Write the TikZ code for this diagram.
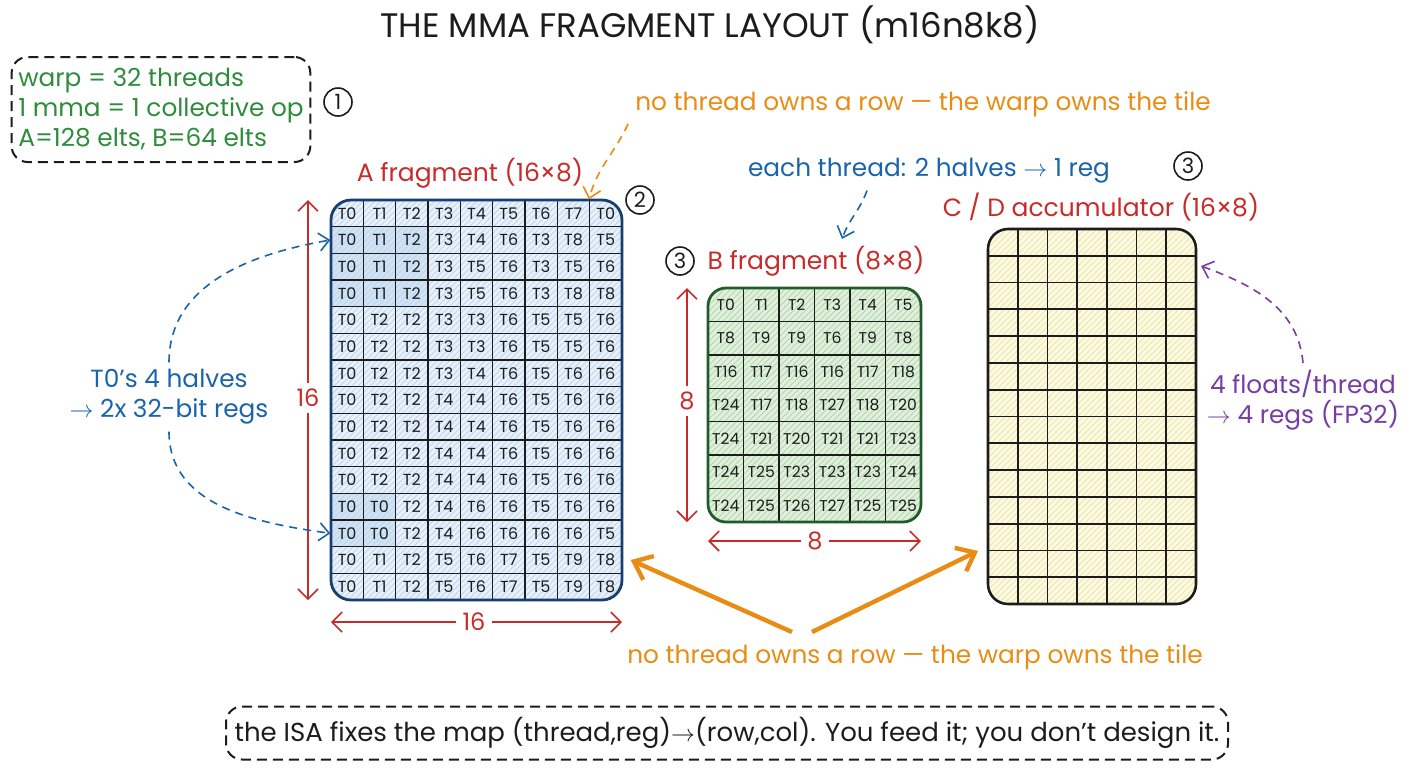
\documentclass[tikz,border=0pt]{standalone}
\usepackage{fontspec}
\setmainfont{Poppins}
\usetikzlibrary{arrows.meta,patterns,calc}
\definecolor{MmaInk}{RGB}{28,28,28}
\definecolor{MmaRed}{RGB}{201,42,42}
\definecolor{MmaBlue}{RGB}{25,100,170}
\definecolor{MmaGreen}{RGB}{47,140,60}
\definecolor{MmaOrange}{RGB}{232,140,20}
\definecolor{MmaPurple}{RGB}{120,60,165}
\definecolor{MmaNavy}{RGB}{22,62,110}
\definecolor{MmaForest}{RGB}{32,92,42}
\definecolor{MmaALight}{RGB}{232,241,250}
\definecolor{MmaAHatch}{RGB}{190,214,238}
\definecolor{MmaAHigh}{RGB}{208,227,245}
\definecolor{MmaBLight}{RGB}{224,240,220}
\definecolor{MmaBHatch}{RGB}{180,215,176}
\definecolor{MmaCLight}{RGB}{252,250,226}
\definecolor{MmaCHatch}{RGB}{238,230,170}
\tikzset{
  mma/title/.style={font=\fontsize{17}{19}\selectfont, text=MmaInk},
  mma/note/.style={font=\fontsize{12.4}{15}\selectfont, align=center},
  mma/head/.style={font=\fontsize{12.5}{15}\selectfont, text=MmaRed},
  mma/num/.style={circle, draw=MmaInk, thick, minimum size=14pt, inner sep=0pt,
    font=\fontsize{10.5}{12}\selectfont, text=MmaInk},
  mma/dashbox/.style={draw=MmaInk, line width=1pt, dash pattern=on 5pt off 3pt,
    rounded corners=8pt},
  mma/tile/.style={inner sep=0pt, outer sep=0pt, rounded corners=10pt},
  mma/acell/.style={draw=MmaInk, line width=0.7pt, minimum width=16.17pt,
    minimum height=13.33pt, inner sep=0pt, text=MmaInk, font=\fontsize{8}{9}\selectfont},
  mma/bcell/.style={draw=MmaInk, line width=0.7pt, minimum width=17.75pt,
    minimum height=16.71pt, inner sep=0pt, text=MmaInk, font=\fontsize{7.8}{9}\selectfont},
  mma/dimlabel/.style={font=\fontsize{12}{14}\selectfont, text=MmaRed, inner sep=3pt},
  mma/dim/.style={-{Straight Barb[length=5pt,width=10pt]}, draw=MmaRed, thick},
  mma/hint/.style={-{Straight Barb[length=5pt,width=9pt]}, thick, dash pattern=on 4pt off 3pt},
  mma/fat/.style={-{Straight Barb[length=8pt,width=13pt]}, draw=MmaOrange, line width=2.2pt}
}
\begin{document}
\begin{tikzpicture}[x=0.5pt,y=-0.5pt]
  \useasboundingbox (0,0) rectangle (1408,768);

  \node[mma/title] (title) at (710,25) {THE MMA FRAGMENT LAYOUT (m16n8k8)};
  \node[mma/note, mma/dashbox, text=MmaGreen, align=left, minimum width=149pt,
    minimum height=52.5pt] (info) at (161,109.5)
    {warp = 32 threads\\1 mma = 1 collective op\\A=128 elts, B=64 elts};
  \node[mma/num] (num1) at (338,102) {1};

  % A fragment
  \node[mma/head] (ahead) at (470,173) {A fragment (16×8)};
  \node[mma/num] (num2) at (640,200) {2};
  \node[mma/tile, minimum width=145.5pt, minimum height=200pt,
    preaction={fill=MmaALight}, pattern=north east lines, pattern color=MmaAHatch]
    (amat) at (476.5,400) {};
  \begin{scope}
    \clip[rounded corners=10pt] (amat.south west) rectangle (amat.north east);
    \foreach \x/\y/\xx/\yy in {331/226.67/428/306.67, 331/493.33/395.67/546.67}
      {\path[fill=MmaAHigh, postaction={pattern=north east lines, pattern color=MmaAHatch}]
        (\x,\y) rectangle (\xx,\yy);}
    \foreach \row [count=\rw] in {
      {T0,T1,T2,T3,T4,T5,T6,T7,T0},{T0,T1,T2,T3,T4,T6,T3,T8,T5},
      {T0,T1,T2,T3,T5,T6,T3,T5,T6},{T0,T1,T2,T3,T5,T6,T3,T8,T8},
      {T0,T2,T2,T3,T3,T6,T5,T5,T6},{T0,T2,T2,T3,T3,T6,T5,T5,T6},
      {T0,T2,T2,T3,T4,T6,T5,T6,T6},{T0,T2,T2,T4,T4,T6,T5,T6,T6},
      {T0,T2,T2,T4,T4,T6,T5,T6,T6},{T0,T2,T2,T4,T4,T6,T5,T6,T6},
      {T0,T2,T2,T4,T4,T6,T5,T6,T6},{T0,T0,T2,T4,T6,T6,T5,T6,T6},
      {T0,T0,T2,T4,T6,T6,T6,T6,T5},{T0,T1,T2,T5,T6,T7,T5,T9,T8},
      {T0,T1,T2,T5,T6,T7,T5,T9,T8}}
      \foreach \txt [count=\cl] in \row
        {\node[mma/acell] (a-\rw-\cl) at ({331+(\cl-0.5)*32.333},{200+(\rw-0.5)*26.667}) {\txt};}
  \end{scope}
  \draw[MmaNavy, line width=1.4pt, rounded corners=10pt] (amat.south west) rectangle (amat.north east);
  \node[mma/dimlabel] (a16v) at (308,398) {16};
  \draw[mma/dim] (a16v.north) -- (a16v |- amat.north);
  \draw[mma/dim] (a16v.south) -- (a16v |- amat.south);
  \node[mma/dimlabel] (a16h) at (474,622) {16};
  \draw[mma/dim] (a16h.west) -- (a16h -| amat.west);
  \draw[mma/dim] (a16h.east) -- (a16h -| amat.east);

  % B fragment
  \node[mma/num] (num3b) at (680,261) {3};
  \node[mma/head] (bhead) at (816,261) {B fragment (8×8)};
  \node[mma/tile, rounded corners=9pt, minimum width=106.5pt, minimum height=117pt,
    preaction={fill=MmaBLight}, pattern=north east lines, pattern color=MmaBHatch]
    (bmat) at (814.5,405) {};
  \begin{scope}
    \clip[rounded corners=9pt] (bmat.south west) rectangle (bmat.north east);
    \foreach \row [count=\rw] in {
      {T0,T1,T2,T3,T4,T5},{T8,T9,T9,T6,T9,T8},{T16,T17,T16,T16,T17,T18},
      {T24,T17,T18,T27,T18,T20},{T24,T21,T20,T21,T21,T23},
      {T24,T25,T23,T23,T23,T24},{T24,T25,T26,T27,T25,T25}}
      \foreach \txt [count=\cl] in \row
        {\node[mma/bcell] (b-\rw-\cl) at ({708+(\cl-0.5)*35.5},{288+(\rw-0.5)*33.43}) {\txt};}
  \end{scope}
  \draw[MmaForest, line width=1.4pt, rounded corners=9pt] (bmat.south west) rectangle (bmat.north east);
  \node[mma/dimlabel] (b8v) at (687,401) {8};
  \draw[mma/dim] (b8v.north) -- (b8v |- bmat.north);
  \draw[mma/dim] (b8v.south) -- (b8v |- bmat.south);
  \node[mma/dimlabel] (b8h) at (815,541) {8};
  \draw[mma/dim] (b8h.west) -- (b8h -| bmat.west);
  \draw[mma/dim] (b8h.east) -- (b8h -| bmat.east);

  % C / D accumulator
  \node[mma/num] (num3c) at (1188,166) {3};
  \node[mma/head] (chead) at (1101,207) {C / D accumulator (16×8)};
  \node[mma/tile, minimum width=104pt, minimum height=187.5pt,
    preaction={fill=MmaCLight}, pattern=north east lines, pattern color=MmaCHatch]
    (cmat) at (1092,416.5) {};
  \foreach \i in {1,...,6}
    {\draw[MmaInk, line width=0.9pt] ({988+\i*29.714},229) -- ++(0,375);}
  \foreach \j in {1,...,13}
    {\draw[MmaInk, line width=0.9pt] (988,{229+\j*26.786}) -- ++(208,0);}
  \draw[MmaInk, line width=1.3pt, rounded corners=10pt] (cmat.south west) rectangle (cmat.north east);

  % notes and pointers
  \node[mma/note, text=MmaBlue] (halves) at (169,397) {T0's 4 halves\\$\rightarrow$ 2x 32-bit regs};
  \draw[mma/hint, MmaBlue] (halves.north) to[out=90, in=190] (a-2-1.west);
  \draw[mma/hint, MmaBlue] (halves.south) to[out=-90, in=172] (a-13-1.west);

  \node[mma/note, text=MmaOrange] (notop) at (923,104) {no thread owns a row — the warp owns the tile};
  \draw[mma/hint, MmaOrange] (notop.south west) to[out=245, in=75] (a-1-9.north west);

  \node[mma/note, text=MmaBlue] (eachthr) at (929,171) {each thread: 2 halves $\rightarrow$ 1 reg};
  \draw[mma/hint, MmaBlue] ([xshift=-31pt]eachthr.south) to[out=-110, in=70] ([xshift=13pt]bhead.north);

  \node[mma/note, text=MmaPurple] (floats) at (1303,400) {4 floats/thread\\$\rightarrow$ 4 regs (FP32)};
  \coordinate (cin) at (1201,266);
  \draw[mma/hint, MmaPurple] (floats.north) to[out=95, in=-20] (cin);

  \node[mma/note, text=MmaOrange] (nobot) at (915,657) {no thread owns a row — the warp owns the tile};
  \coordinate (fkl) at (792,632);
  \coordinate (fkr) at (812,632);
  \coordinate (cbl) at (978,551);
  \draw[mma/fat] (fkl) -- ([xshift=4pt]a-14-9.east);
  \draw[mma/fat] (fkr) -- (cbl);

  \node[mma/note, mma/dashbox, text=MmaInk, minimum width=501pt, minimum height=26.5pt,
    font=\fontsize{13}{15}\selectfont]
    (isa) at (727,733) {the ISA fixes the map (thread,reg)$\rightarrow$(row,col). You feed it; you don't design it.};
\end{tikzpicture}
\end{document}
